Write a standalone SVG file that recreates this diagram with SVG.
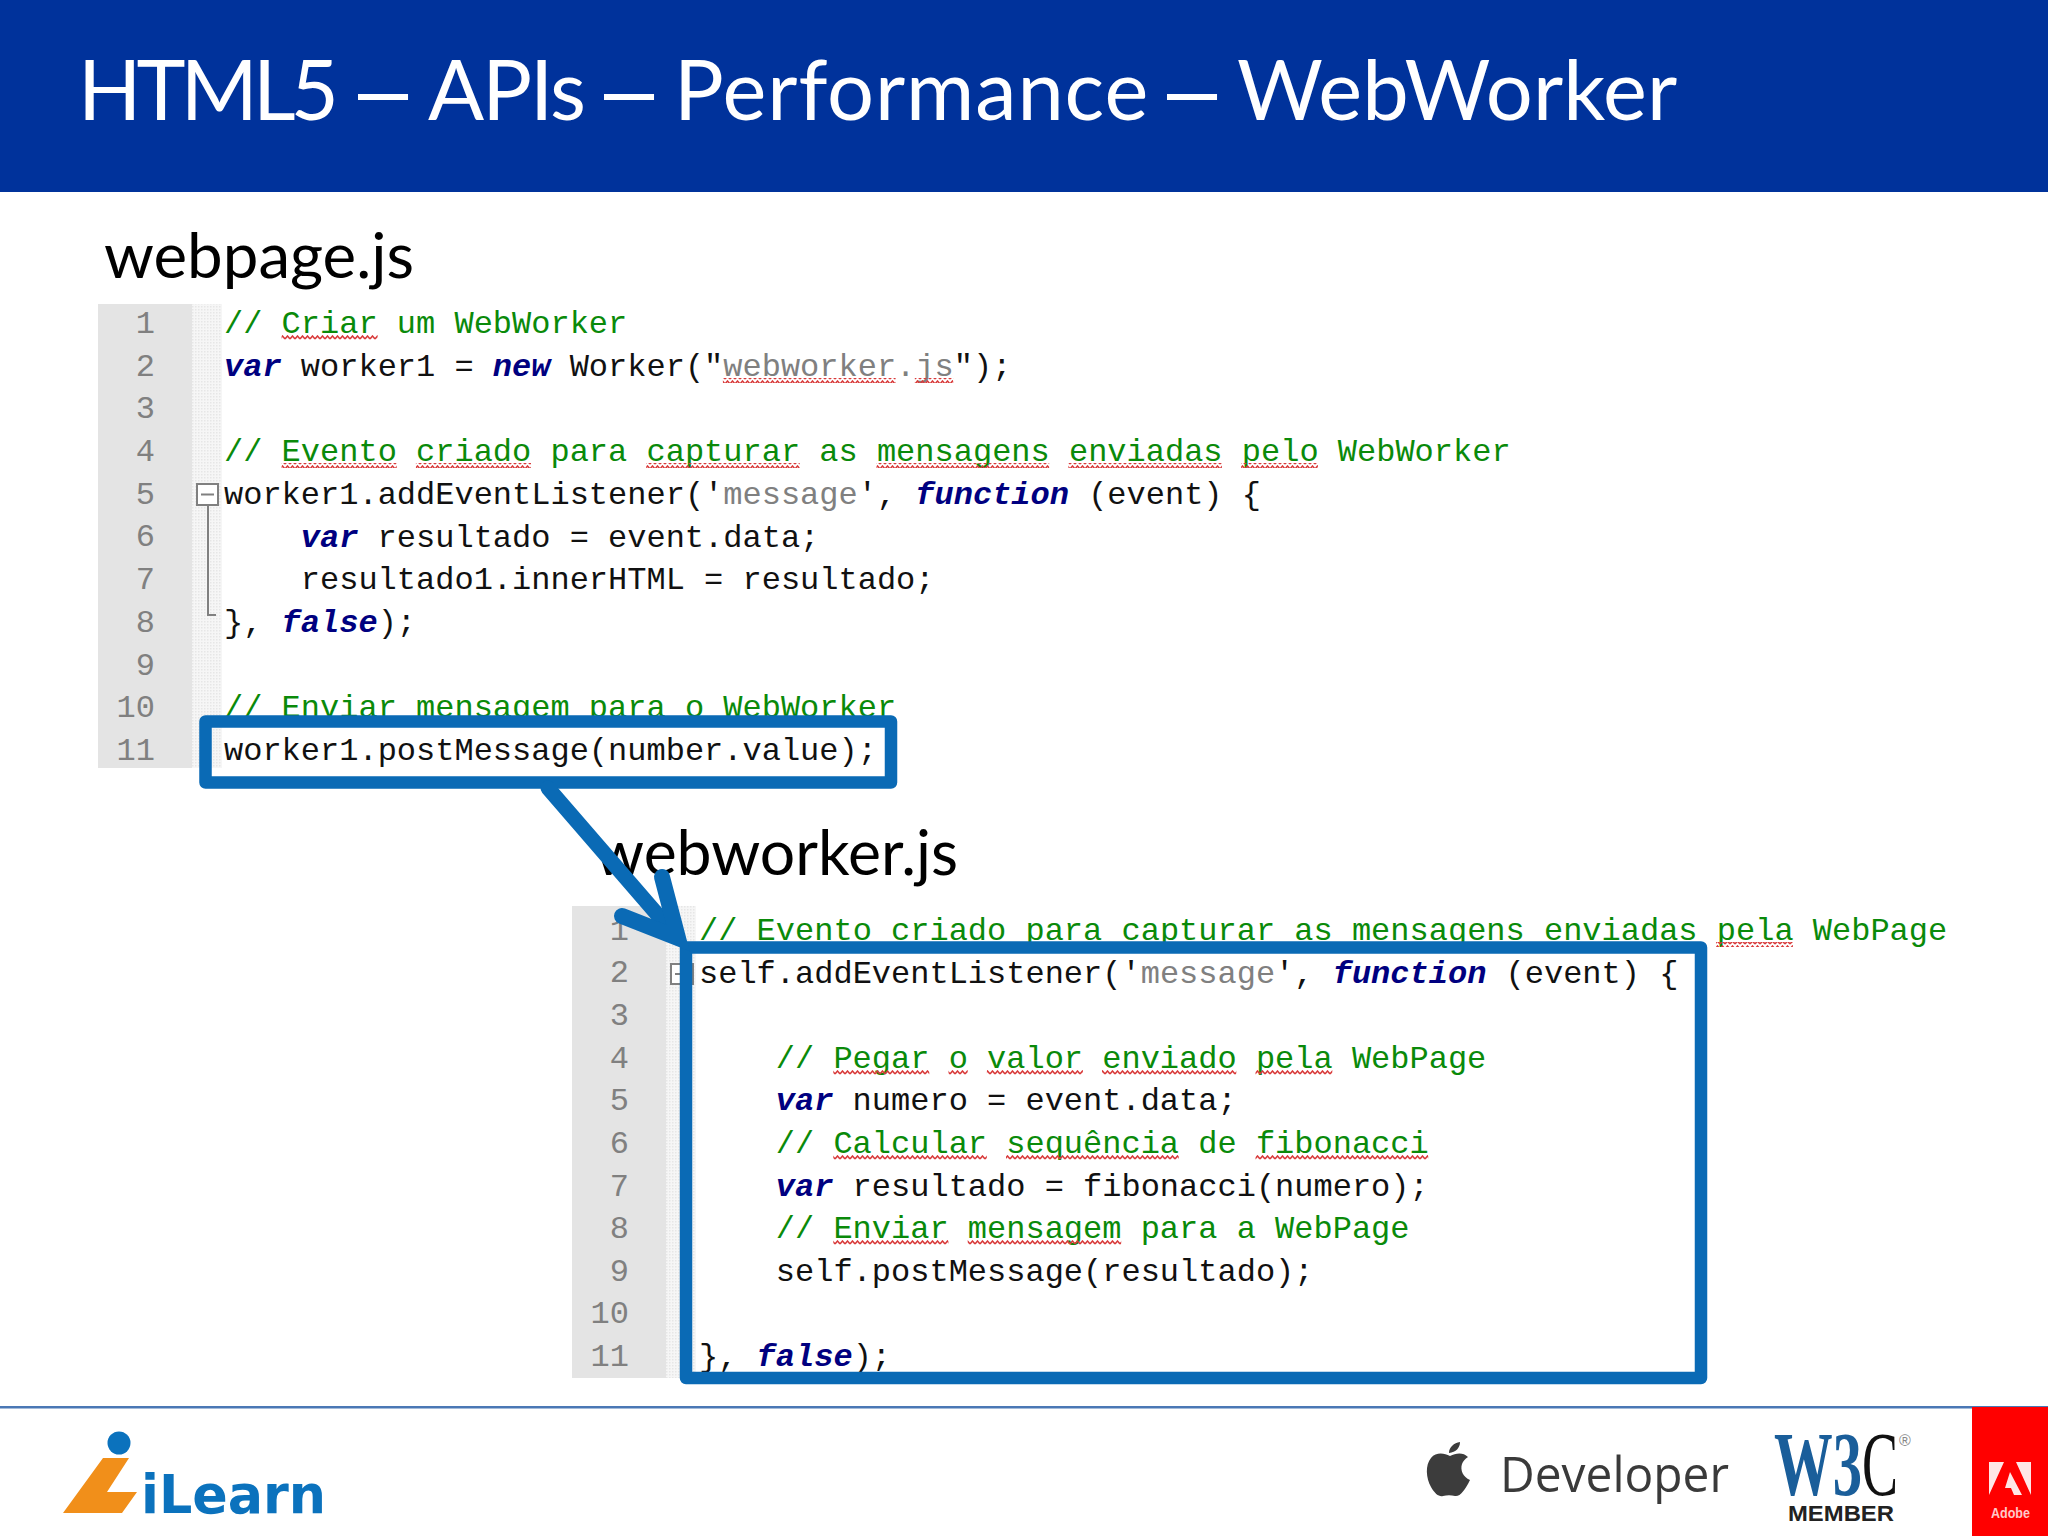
<svg xmlns="http://www.w3.org/2000/svg" width="2048" height="1536" viewBox="0 0 2048 1536">
<style>
.sans{font-family:"Lato","Open Sans","Liberation Sans",sans-serif}
.code{font-family:"Liberation Mono","Courier New",monospace;font-size:32px;fill:#111}
.num{font-family:"Liberation Mono","Courier New",monospace;font-size:32px;fill:#808080;text-anchor:end}
.c{fill:#0a8a0a}
.k{fill:#000080;font-weight:bold;font-style:italic}
.s{fill:#808080}
.dash{font-family:"Liberation Sans",sans-serif;font-size:90px}
.gutter{fill:#e4e4e4}
.strip{fill:url(#hatch)}
.sq{fill:url(#squig)}
.fold{fill:#fff;stroke:#808080;stroke-width:2}
.foldl{fill:none;stroke:#808080;stroke-width:2}
.box{fill:none;stroke:#0a6ab5;stroke-width:12.5;stroke-linejoin:round}
.arrow{fill:none;stroke:#0a6ab5;stroke-linecap:round;stroke-linejoin:miter}
.heading{fill:#000;font-size:62px}
</style>
<defs>
<pattern id="hatch" width="3" height="3" patternUnits="userSpaceOnUse"><rect width="3" height="3" fill="#f6f6f6"/><rect width="1.5" height="1.5" fill="#e6e6e6"/></pattern>
<pattern id="squig" width="5" height="5" patternUnits="userSpaceOnUse"><path d="M0 4L2.5 1L5 4" fill="none" stroke="#d93a3a" stroke-width="1.5"/></pattern>
</defs>
<rect width="2048" height="1536" fill="#fff"/>

<g id="header">
<rect width="2048" height="192" fill="#00329b"/>
<text class="sans" y="120" font-size="83" fill="#fff"><tspan x="78" letter-spacing="-4.800">HTML5</tspan> <tspan class="dash" x="358">–</tspan> <tspan x="428" letter-spacing="-2">APIs</tspan> <tspan class="dash" x="604">–</tspan> <tspan x="674" letter-spacing="0.900">Performance</tspan> <tspan class="dash" x="1167">–</tspan> <tspan x="1237" letter-spacing="0.100">WebWorker</tspan></text>
</g>

<g id="webpage-code">
<text class="sans heading" x="104" y="278" textLength="310" lengthAdjust="spacingAndGlyphs">webpage.js</text>
<rect class="gutter" x="98" y="304" width="94" height="464"/>
<rect class="strip" x="192" y="304" width="30" height="464"/>
<g class="num">
<text x="155" y="333">1</text><text x="155" y="376">2</text><text x="155" y="418">3</text><text x="155" y="461">4</text><text x="155" y="504">5</text><text x="155" y="546">6</text><text x="155" y="589">7</text><text x="155" y="632">8</text><text x="155" y="675">9</text><text x="155" y="717">10</text><text x="155" y="760">11</text>
</g>
<rect class="fold" x="197" y="484" width="21" height="21"/>
<path class="foldl" d="M201 494.500H214M208 505V615H216"/>
<g class="code">
<text x="224" y="333" class="code c">// Criar um WebWorker</text>
<text x="224" y="375.700"><tspan class="k">var</tspan> worker1 = <tspan class="k">new</tspan> Worker("<tspan class="s">webworker.js</tspan>");</text>
<text x="224" y="461.100" class="code c">// Evento criado para capturar as mensagens enviadas pelo WebWorker</text>
<text x="224" y="503.800">worker1.addEventListener('<tspan class="s">message</tspan>', <tspan class="k">function</tspan> (event) {</text>
<text x="300.800" y="546.500"><tspan class="k">var</tspan> resultado = event.data;</text>
<text x="300.800" y="589.200">resultado1.innerHTML = resultado;</text>
<text x="224" y="631.900">}, <tspan class="k">false</tspan>);</text>
<text x="224" y="717.300" class="code c">// Enviar mensagem para o WebWorker</text>
<text x="224" y="760">worker1.postMessage(number.value);</text>
</g>
<g>
<rect class="sq" x="281.600" y="335" width="96" height="5"/>
<rect class="sq" x="722.900" y="378" width="172.700" height="5"/>
<rect class="sq" x="914.800" y="378" width="38.400" height="5"/>
<rect class="sq" x="281.600" y="463" width="115.100" height="5"/>
<rect class="sq" x="415.900" y="463" width="115.100" height="5"/>
<rect class="sq" x="646.200" y="463" width="153.500" height="5"/>
<rect class="sq" x="876.500" y="463" width="172.700" height="5"/>
<rect class="sq" x="1068.400" y="463" width="153.500" height="5"/>
<rect class="sq" x="1241.100" y="463" width="76.800" height="5"/>
</g>
</g>

<g id="webworker-code">
<text class="sans heading" x="595" y="875" textLength="363" lengthAdjust="spacingAndGlyphs">webworker.js</text>
<rect class="gutter" x="572" y="906" width="94" height="472"/>
<rect class="strip" x="666" y="906" width="30" height="472"/>
<g class="num">
<text x="629" y="940">1</text><text x="629" y="982">2</text><text x="629" y="1025">3</text><text x="629" y="1068">4</text><text x="629" y="1110">5</text><text x="629" y="1153">6</text><text x="629" y="1196">7</text><text x="629" y="1238">8</text><text x="629" y="1281">9</text><text x="629" y="1323">10</text><text x="629" y="1366">11</text>
</g>
<rect class="fold" x="671" y="964" width="22" height="20"/>
<path class="foldl" d="M675 974H689"/>
<g class="code">
<text x="699" y="940" class="code c">// Evento criado para capturar as mensagens enviadas pela WebPage</text>
<text x="699" y="982.600">self.addEventListener('<tspan class="s">message</tspan>', <tspan class="k">function</tspan> (event) {</text>
<text x="775.800" y="1067.700" class="code c">// Pegar o valor enviado pela WebPage</text>
<text x="775.800" y="1110.300"><tspan class="k">var</tspan> numero = event.data;</text>
<text x="775.800" y="1153" class="code c">// Calcular sequência de fibonacci</text>
<text x="775.800" y="1195.600"><tspan class="k">var</tspan> resultado = fibonacci(numero);</text>
<text x="775.800" y="1238.300" class="code c">// Enviar mensagem para a WebPage</text>
<text x="775.800" y="1281">self.postMessage(resultado);</text>
<text x="699" y="1366">}, <tspan class="k">false</tspan>);</text>
</g>
<g>
<rect class="sq" x="756.600" y="942" width="115.100" height="5"/>
<rect class="sq" x="890.900" y="942" width="115.100" height="5"/>
<rect class="sq" x="1121.200" y="942" width="153.500" height="5"/>
<rect class="sq" x="1351.500" y="942" width="172.700" height="5"/>
<rect class="sq" x="1543.400" y="942" width="153.500" height="5"/>
<rect class="sq" x="1716.100" y="942" width="76.800" height="5"/>
<rect class="sq" x="833.300" y="1070" width="96" height="5"/>
<rect class="sq" x="948.500" y="1070" width="19.200" height="5"/>
<rect class="sq" x="986.900" y="1070" width="96" height="5"/>
<rect class="sq" x="1102" y="1070" width="134.300" height="5"/>
<rect class="sq" x="1255.500" y="1070" width="76.800" height="5"/>
<rect class="sq" x="833.300" y="1155" width="153.500" height="5"/>
<rect class="sq" x="1006" y="1155" width="172.700" height="5"/>
<rect class="sq" x="1255.500" y="1155" width="172.700" height="5"/>
<rect class="sq" x="833.300" y="1240" width="115.100" height="5"/>
<rect class="sq" x="967.700" y="1240" width="153.500" height="5"/>
</g>
</g>

<g id="connectors">
<rect id="source-box" class="box" x="205.500" y="721.500" width="685.500" height="61"/>
<rect id="target-box" class="box" x="686" y="947.500" width="1015" height="430.500"/>
<path class="arrow" stroke-width="15" stroke-linecap="butt" d="M548 788L676 936"/>
<path class="arrow" stroke-width="16" d="M662 877L678 938L622 916"/>
</g>

<g id="footer">
<rect x="0" y="1406" width="2048" height="2.500" fill="#4a78b5"/>
<g id="ilearn-logo">
<circle cx="119" cy="1443" r="11.500" fill="#0b72bd"/>
<polygon points="103,1458 129,1458 107,1492 137,1492 122,1513 63,1513" fill="#f18f1a"/>
<text x="141" y="1513" font-family="'DejaVu Sans',sans-serif" font-weight="bold" font-size="54" fill="#0b72bd" textLength="185" lengthAdjust="spacingAndGlyphs">iLearn</text>
</g>
<g id="apple-developer-logo">
<path fill="#3c3c3c" d="M1450 1456C1444 1453 1436 1452 1431 1458C1425 1465 1426 1478 1431 1487C1435 1494 1439 1497 1443 1496C1447 1495 1451 1495 1455 1496C1460 1497 1465 1490 1470 1480C1463 1477 1460 1470 1462 1464C1463 1461 1465 1459 1468 1457C1463 1452 1456 1453 1450 1456ZM1449 1453C1449 1447 1454 1443 1460 1442C1460 1448 1456 1452 1449 1453Z"/>
<text x="1500" y="1492" font-family="'Open Sans',sans-serif" font-size="50" fill="#3a3a3a" textLength="229" lengthAdjust="spacingAndGlyphs">Developer</text>
</g>
<g id="w3c-logo">
<text x="1774" y="1495" font-family="'Liberation Serif',serif" font-weight="bold" font-size="92" fill="#1a5e9a" textLength="88" lengthAdjust="spacingAndGlyphs">W3</text>
<text x="1862" y="1495" font-family="'Liberation Serif',serif" font-size="92" fill="#111" textLength="36" lengthAdjust="spacingAndGlyphs">C</text>
<text x="1899" y="1446" font-family="'Liberation Sans',sans-serif" font-size="16" fill="#888">®</text>
<text x="1788" y="1521" font-family="'Liberation Sans',sans-serif" font-weight="bold" font-size="22" fill="#222" textLength="106" lengthAdjust="spacingAndGlyphs">MEMBER</text>
</g>
<g id="adobe-logo">
<rect x="1972" y="1407" width="76" height="129" fill="#f00"/>
<path fill="#ffe6e6" d="M1989 1462H2004L1989 1495ZM2016 1462H2031V1495ZM2010 1472L2022 1495H2014L2011 1488H2005Z"/>
<text x="1991" y="1518" font-family="'Liberation Sans',sans-serif" font-weight="bold" font-size="14" fill="#ffc8c8" textLength="39" lengthAdjust="spacingAndGlyphs">Adobe</text>
</g>
</g>
</svg>
